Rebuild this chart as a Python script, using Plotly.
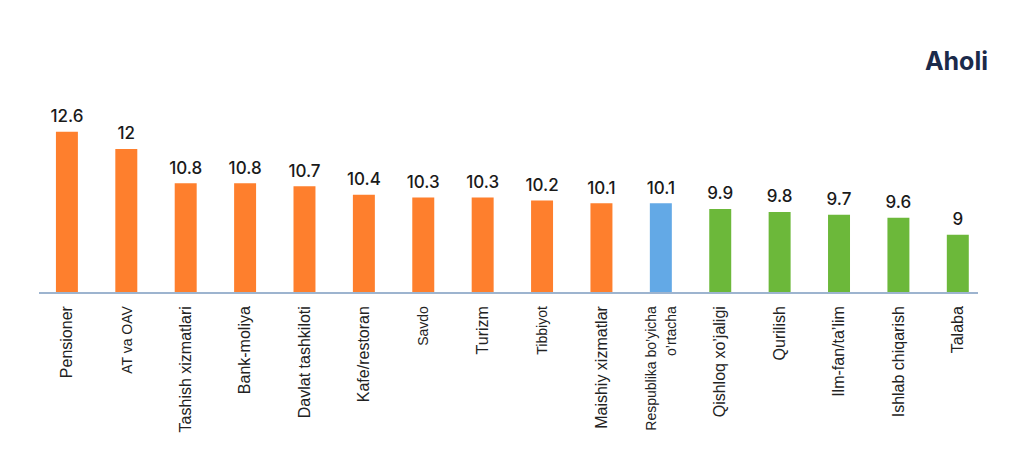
import plotly.graph_objects as go

categories = ["Pensioner", "AT va OAV", "Tashish xizmatlari", "Bank-moliya", "Davlat tashkiloti",
              "Kafe/restoran", "Savdo", "Turizm", "Tibbiyot", "Maishiy xizmatlar",
              "Respublika bo'yicha o'rtacha", "Qishloq xo'jaligi", "Qurilish", "Ilm-fan/ta'lim",
              "Ishlab chiqarish", "Talaba"]
values = [12.6, 12, 10.8, 10.8, 10.7, 10.4, 10.3, 10.3, 10.2, 10.1, 10.1, 9.9, 9.8, 9.7, 9.6, 9]
groups = ["high"] * 10 + ["avg"] + ["low"] * 5
tick_labels = ["Pensioner", "AT va OAV", "Tashish xizmatlari", "Bank-moliya", "Davlat tashkiloti",
               "Kafe/restoran", "Savdo", "Turizm", "Tibbiyot", "Maishiy xizmatlar",
               "Respublika bo\u2019yicha<br>o\u2019rtacha", "Qishloq xo\u2019jaligi", "Qurilish",
               "Ilm-fan/ta\u2019lim", "Ishlab chiqarish", "Talaba"]
small_labels = {"AT va OAV", "Savdo", "Tibbiyot", "Respublika bo'yicha o'rtacha"}

group_colors = {"high": "#FE7F2D", "avg": "#63A9E6", "low": "#6CB83A"}
colors = [group_colors[g] for g in groups]

ticktext = []
for c, t in zip(categories, tick_labels):
    if c in small_labels:
        ticktext.append('<span style="font-size:14px">' + t + '</span>')
    else:
        ticktext.append(t)

fig = go.Figure()
fig.add_trace(go.Bar(
    x=categories, y=values, marker=dict(color=colors, line=dict(width=0)),
    hoverinfo="skip",
))
fig.add_trace(go.Scatter(
    x=categories, y=values, mode="markers+text",
    marker=dict(size=7, opacity=0),
    text=[f"{v:g}" for v in values], textposition="top center", cliponaxis=False,
    textfont=dict(family="Inter", size=17, color="#1a1a1a", weight=500),
    hoverinfo="skip",
))

fig.update_layout(
    width=1024, height=464,
    margin=dict(l=39, r=46, t=100, b=172),
    paper_bgcolor="white", plot_bgcolor="white",
    bargap=0.63,
    showlegend=False,
    title=dict(text="<b>Aholi</b>", x=988/1024, xanchor="right", y=1-61/464, yanchor="middle",
               font=dict(family="Inter", size=25, color="#1B2A4A")),
)
fig.update_xaxes(
    type="category", range=[-0.47, 15.34],
    tickvals=categories, ticktext=ticktext, tickangle=-90,
    tickfont=dict(family="Liberation Sans", size=16, color="#222222"),
    showline=True, linecolor="#9DB4CF", linewidth=1.5,
    showgrid=False, ticks="outside", ticklen=6, tickcolor="rgba(0,0,0,0)",
)
fig.update_yaxes(
    range=[7, 7 + 192 / 28.6], visible=False, showgrid=False, zeroline=False,
)

fig.write_html("out.html")
